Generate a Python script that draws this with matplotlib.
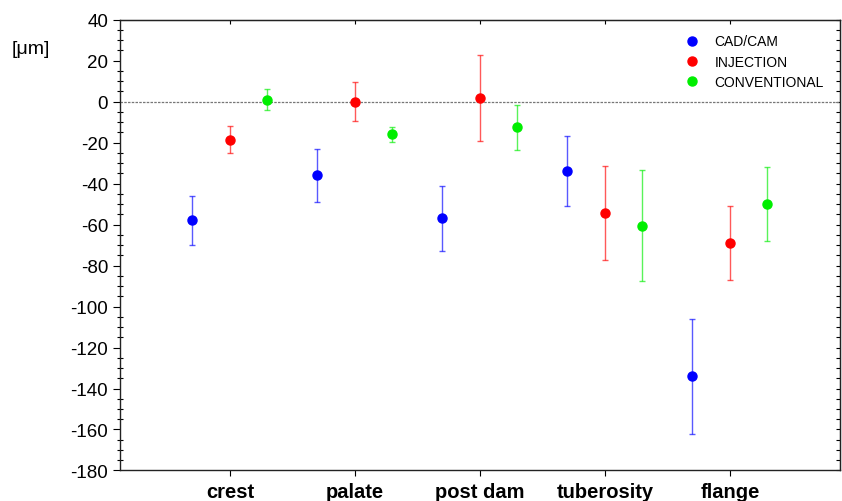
import matplotlib
matplotlib.use("Agg")
import matplotlib.pyplot as plt
from matplotlib.ticker import MultipleLocator
import numpy as np

plt.rcParams['font.family'] = ['Liberation Sans', 'DejaVu Sans']
plt.rcParams['axes.unicode_minus'] = False

categories = ["crest", "palate", "post dam", "tuberosity", "flange"]
series_names = ["CAD/CAM", "INJECTION", "CONVENTIONAL"]
cadcam_mean = [-58, -36, -57, -34, -134]
cadcam_err = [12, 13, 16, 17, 28]
injection_mean = [-18.5, 0, 2, -54.5, -69]
injection_err = [6.5, 9.5, 21, 23, 18]
conventional_mean = [1, -16, -12.5, -60.5, -50]
conventional_err = [5, 3.5, 11, 27, 18]

colors = ["#0000ff", "#ff0000", "#00ee00"]
offsets = [-0.3, 0.0, 0.3]
means = [cadcam_mean, injection_mean, conventional_mean]
errs = [cadcam_err, injection_err, conventional_err]

fig = plt.figure(figsize=(8.42, 5.02), dpi=100)
ax = fig.add_axes([0.1425, 0.0608, 0.855, 0.898])

x = np.arange(1, len(categories) + 1)
ax.axhline(0, color="#777777", lw=0.9, ls=(0, (2, 1)), zorder=1)

for name, m, e, c, off in zip(series_names, means, errs, colors, offsets):
    ax.errorbar(x + off, m, yerr=e, fmt="none", ecolor=c, elinewidth=1.0,
                capsize=2.5, capthick=1.0, alpha=0.65, zorder=2)
    ax.plot(x + off, m, "o", color=c, markersize=6.5, zorder=3, label=name,
            linestyle="none")

ax.set_xlim(0.12, 5.88)
ax.set_ylim(-180, 40)
ax.yaxis.set_major_locator(MultipleLocator(20))
ax.yaxis.set_minor_locator(MultipleLocator(5))
ax.set_xticks(x)
ax.set_xticklabels(categories, fontsize=14.5, fontweight="bold")
ax.tick_params(axis="y", which="major", direction="out", length=5, labelsize=13.5,
               width=0.8)
ax.tick_params(axis="y", which="minor", direction="inout", length=4, width=0.8)
ax.tick_params(axis="x", which="major", direction="out", length=4, pad=4, width=0.8)

# right and top inward ticks
axr = ax.secondary_yaxis("right")
axr.yaxis.set_major_locator(MultipleLocator(5))
axr.tick_params(direction="in", length=3, width=0.8, labelright=False)
axt = ax.secondary_xaxis("top")
axt.set_xticks(x)
axt.tick_params(direction="in", length=3, width=0.8, labeltop=False)

for s in ax.spines.values():
    s.set_linewidth(1.0)
    s.set_color("#222222")

ax.text(-0.15, 0.935, "[μm]", transform=ax.transAxes, fontsize=14, ha="left", va="center")

leg = ax.legend(loc="upper right", bbox_to_anchor=(0.995, 0.995), frameon=False,
                fontsize=10, handletextpad=1.1, labelspacing=0.45, markerscale=1.0,
                handlelength=1.0)

fig.savefig("out.png", dpi=100)
